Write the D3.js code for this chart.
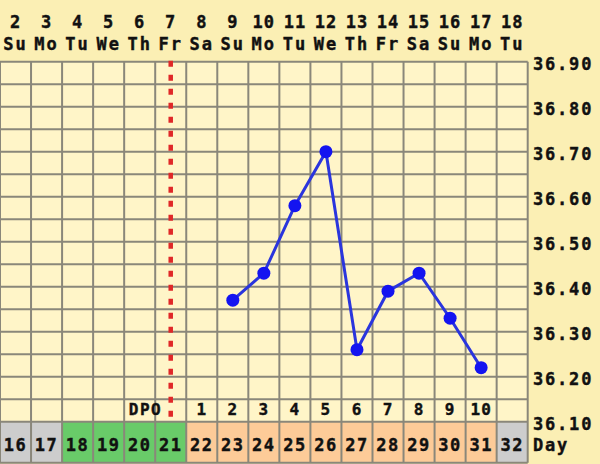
<!DOCTYPE html>
<html>
<head>
<meta charset="utf-8">
<script src="https://cdn.jsdelivr.net/npm/d3@7"></script>
<style>
  body { margin: 0; background: #fbefb4; }
  text { font-family: "DejaVu Sans Mono", monospace; font-weight: bold; fill: #111; stroke: #111; stroke-width: 0.4; }
</style>
</head>
<body>
<div class="chart"></div>
<script>
// calendar dates shown across the top
const dates = [2, 3, 4, 5, 6, 7, 8, 9, 10, 11, 12, 13, 14, 15, 16, 17, 18];
const weekdays = ["Su", "Mo", "Tu", "We", "Th", "Fr", "Sa", "Su", "Mo", "Tu", "We", "Th", "Fr", "Sa", "Su", "Mo", "Tu"];
// cycle day numbers along the bottom
const cycleDays = [16, 17, 18, 19, 20, 21, 22, 23, 24, 25, 26, 27, 28, 29, 30, 31, 32];
const dayPhase = ["none", "none", "fertile", "fertile", "fertile", "fertile", "luteal", "luteal", "luteal", "luteal", "luteal", "luteal", "luteal", "luteal", "luteal", "luteal", "none"];
// days past ovulation, by calendar date
const dpoDates = [8, 9, 10, 11, 12, 13, 14, 15, 16, 17];
const dpoValues = [1, 2, 3, 4, 5, 6, 7, 8, 9, 10];
const ovulationDate = 7;
// temperatures
const tempDates = [9, 10, 11, 12, 13, 14, 15, 16, 17];
const temps = [36.37, 36.43, 36.58, 36.70, 36.26, 36.39, 36.43, 36.33, 36.22];
const tempTicks = [36.1, 36.2, 36.3, 36.4, 36.5, 36.6, 36.7, 36.8, 36.9];

const totalWidth = 600, totalHeight = 464;
const gridLeft = 0, gridRight = 527.7;
const gridTop = 61.7, gridBottom = 421.7, rowBottom = 462.7;

const svg = d3.select(".chart").append("svg")
  .attr("width", totalWidth)
  .attr("height", totalHeight);

const x = d3.scaleBand().domain(dates).range([gridLeft, gridRight]);
const y = d3.scaleLinear().domain([36.1, 36.9]).range([gridBottom, gridTop]);
const phaseColor = d3.scaleOrdinal()
  .domain(["none", "fertile", "luteal"])
  .range(["#cdcdcd", "#69cb69", "#fdcb98"]);
const cx = (date) => x(date) + x.bandwidth() / 2;

//grid background
svg.append("rect")
  .attr("x", gridLeft).attr("y", gridTop)
  .attr("width", gridRight - gridLeft).attr("height", gridBottom - gridTop)
  .attr("fill", "#fff5c8");

//bottom cycle day cells
svg.selectAll(".cell")
  .data(cycleDays)
  .enter()
  .append("rect")
  .attr("class", "cell")
  .attr("x", (d, i) => x(dates[i]))
  .attr("y", gridBottom)
  .attr("width", x.bandwidth())
  .attr("height", rowBottom - gridBottom)
  .attr("fill", (d, i) => phaseColor(dayPhase[i]));

//horizontal grid lines every 0.05
const hLines = d3.range(0, 17).map((i) => 36.1 + i * 0.05);
svg.selectAll(".hline")
  .data(hLines)
  .enter()
  .append("line")
  .attr("x1", gridLeft).attr("x2", gridRight)
  .attr("y1", (d) => y(d)).attr("y2", (d) => y(d))
  .attr("stroke", "#8a877a")
  .attr("stroke-width", 2);

svg.append("line")
  .attr("x1", gridLeft).attr("x2", gridRight)
  .attr("y1", rowBottom).attr("y2", rowBottom)
  .attr("stroke", "#8a877a").attr("stroke-width", 2);

//vertical grid lines
const vEdges = dates.map((d) => x(d)).concat([gridRight]);
svg.selectAll(".vline")
  .data(vEdges)
  .enter()
  .append("line")
  .attr("x1", (d) => d).attr("x2", (d) => d)
  .attr("y1", gridTop).attr("y2", rowBottom)
  .attr("stroke", "#8a877a")
  .attr("stroke-width", 2);

//header dates and weekdays
svg.selectAll(".date")
  .data(dates)
  .enter()
  .append("text")
  .attr("x", (d) => cx(d))
  .attr("y", 28)
  .attr("text-anchor", "middle")
  .attr("font-size", 17)
  .attr("letter-spacing", 1)
  .text((d) => d);

svg.selectAll(".wday")
  .data(weekdays)
  .enter()
  .append("text")
  .attr("x", (d, i) => cx(dates[i]))
  .attr("y", 50)
  .attr("text-anchor", "middle")
  .attr("font-size", 17)
  .attr("letter-spacing", 2)
  .text((d) => d);

//right temperature labels
svg.selectAll(".tick")
  .data(tempTicks)
  .enter()
  .append("text")
  .attr("x", 533)
  .attr("y", (d) => y(d) + 8)
  .attr("font-size", 17)
  .attr("letter-spacing", 1.8)
  .text((d) => d3.format(".2f")(d));

svg.append("text")
  .attr("x", 533).attr("y", 451)
  .attr("font-size", 17)
  .attr("letter-spacing", 1.8)
  .text("Day");

//cycle day numbers
svg.selectAll(".cday")
  .data(cycleDays)
  .enter()
  .append("text")
  .attr("x", (d, i) => cx(dates[i]))
  .attr("y", 451)
  .attr("text-anchor", "middle")
  .attr("font-size", 17)
  .attr("letter-spacing", 1.5)
  .text((d) => d);

//DPO row
svg.append("text")
  .attr("x", x(ovulationDate) + 7)
  .attr("y", 415)
  .attr("text-anchor", "end")
  .attr("font-size", 16)
  .attr("letter-spacing", 1.5)
  .text("DPO");

svg.selectAll(".dpo")
  .data(dpoValues)
  .enter()
  .append("text")
  .attr("x", (d, i) => cx(dpoDates[i]))
  .attr("y", 415)
  .attr("text-anchor", "middle")
  .attr("font-size", 16)
  .attr("letter-spacing", 1)
  .text((d) => d);

//ovulation line
svg.append("line")
  .attr("x1", cx(ovulationDate))
  .attr("x2", cx(ovulationDate))
  .attr("y1", gridTop - 1).attr("y2", gridBottom)
  .attr("stroke", "#e02828")
  .attr("stroke-width", 4.5)
  .attr("stroke-dasharray", "6,8");

//temperature line
const line = d3.line()
  .x((d, i) => cx(tempDates[i]))
  .y((d) => y(d));

svg.append("path")
  .datum(temps)
  .attr("d", line)
  .attr("fill", "none")
  .attr("stroke", "#2a35dd")
  .attr("stroke-width", 3);

svg.selectAll(".pt")
  .data(temps)
  .enter()
  .append("circle")
  .attr("cx", (d, i) => cx(tempDates[i]))
  .attr("cy", (d) => y(d))
  .attr("r", 6.5)
  .attr("fill", "#1414f0");
</script>
</body>
</html>
